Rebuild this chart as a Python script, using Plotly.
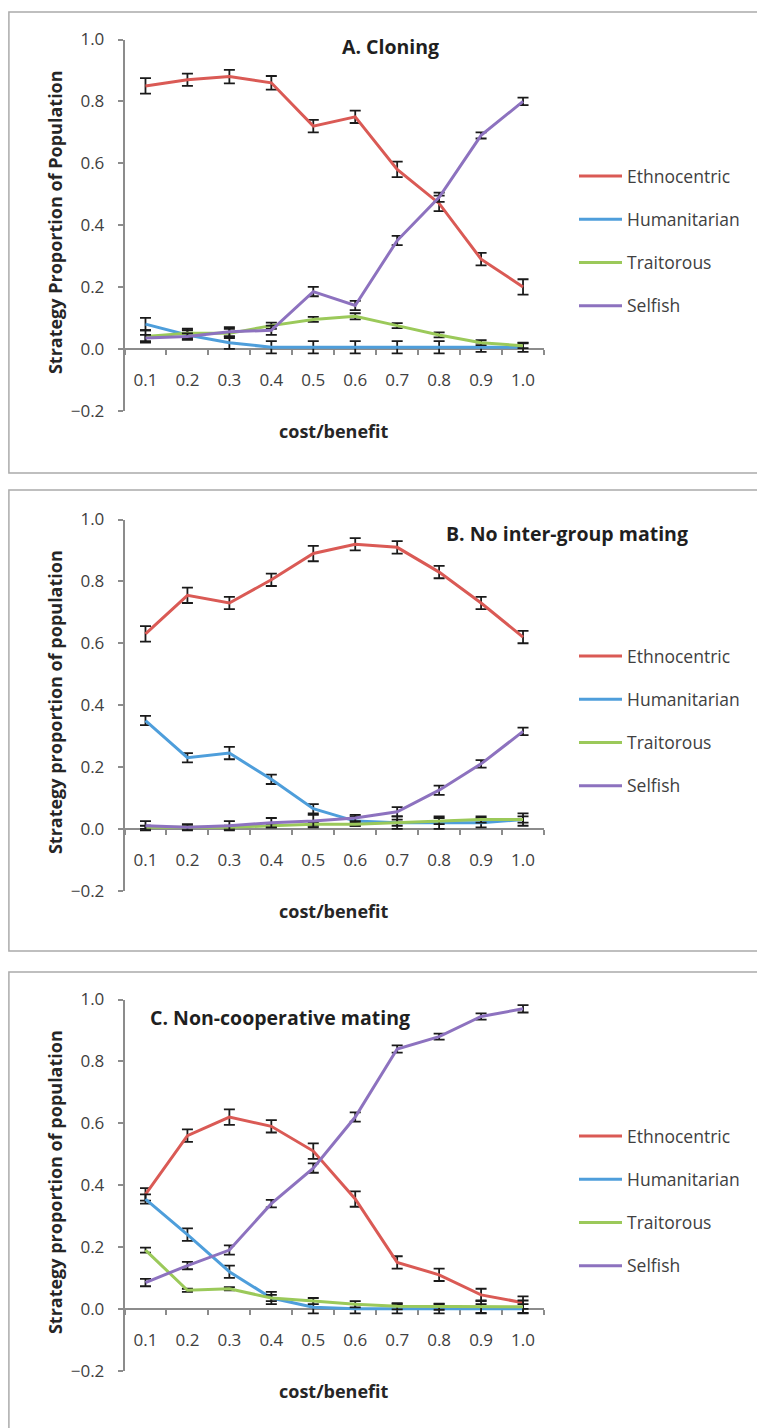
import plotly.graph_objects as go

# The page body adds an 8px margin: the figure is sized so that it fills the
# 765x1428 window exactly, and all layout positions below are window pixels.
PAGE_OFF = 8
FW, FH = 765 - PAGE_OFF, 1428 - PAGE_OFF

cats = ["0.1", "0.2", "0.3", "0.4", "0.5", "0.6", "0.7", "0.8", "0.9", "1.0"]
series_names = ["Ethnocentric", "Humanitarian", "Traitorous", "Selfish"]
series_colors = ["#DA5A55", "#4E9EDB", "#9BC95A", "#8D72BF"]

panel_titles = ["A. Cloning", "B. No inter-group mating", "C. Non-cooperative mating"]
y_titles = ["Strategy Proportion of Population",
            "Strategy proportion of population",
            "Strategy proportion of population"]
x_title = "cost/benefit"

# Panel A: Cloning
a_ethno = [0.85, 0.87, 0.88, 0.86, 0.72, 0.75, 0.58, 0.47, 0.29, 0.20]
a_human = [0.08, 0.045, 0.02, 0.005, 0.005, 0.005, 0.005, 0.005, 0.005, 0.005]
a_trait = [0.04, 0.05, 0.05, 0.075, 0.095, 0.105, 0.075, 0.045, 0.02, 0.01]
a_selfish = [0.035, 0.04, 0.055, 0.06, 0.185, 0.14, 0.35, 0.49, 0.69, 0.80]
a_ethno_err = [0.025, 0.02, 0.022, 0.022, 0.02, 0.02, 0.025, 0.025, 0.02, 0.025]
a_human_err = [0.02, 0.015, 0.02, 0.02, 0.02, 0.02, 0.02, 0.02, 0.015, 0.015]
a_trait_err = [0.02, 0.015, 0.015, 0.01, 0.008, 0.01, 0.008, 0.008, 0.008, 0.008]
a_selfish_err = [0.01, 0.01, 0.015, 0.015, 0.015, 0.015, 0.015, 0.015, 0.01, 0.012]

# Panel B: No inter-group mating
b_ethno = [0.63, 0.755, 0.73, 0.805, 0.89, 0.92, 0.91, 0.83, 0.73, 0.62]
b_human = [0.35, 0.23, 0.245, 0.16, 0.065, 0.025, 0.02, 0.02, 0.02, 0.03]
b_trait = [0.005, 0.005, 0.005, 0.01, 0.015, 0.015, 0.02, 0.025, 0.03, 0.03]
b_selfish = [0.01, 0.005, 0.01, 0.02, 0.025, 0.035, 0.055, 0.125, 0.21, 0.315]
b_ethno_err = [0.025, 0.025, 0.02, 0.02, 0.025, 0.02, 0.02, 0.02, 0.02, 0.02]
b_human_err = [0.015, 0.015, 0.02, 0.015, 0.015, 0.015, 0.02, 0.02, 0.015, 0.02]
b_trait_err = [0.005, 0.005, 0.005, 0.005, 0.005, 0.005, 0.01, 0.01, 0.01, 0.01]
b_selfish_err = [0.015, 0.01, 0.015, 0.015, 0.02, 0.01, 0.015, 0.015, 0.012, 0.012]

# Panel C: Non-cooperative mating
c_ethno = [0.37, 0.56, 0.62, 0.59, 0.51, 0.355, 0.15, 0.11, 0.045, 0.02]
c_human = [0.355, 0.24, 0.12, 0.035, 0.005, 0.0, 0.0, 0.0, 0.0, 0.0]
c_trait = [0.19, 0.06, 0.065, 0.035, 0.025, 0.015, 0.008, 0.007, 0.007, 0.007]
c_selfish = [0.085, 0.14, 0.19, 0.34, 0.455, 0.62, 0.84, 0.88, 0.945, 0.97]
c_ethno_err = [0.02, 0.02, 0.025, 0.02, 0.025, 0.025, 0.02, 0.02, 0.02, 0.02]
c_human_err = [0.015, 0.02, 0.02, 0.02, 0.02, 0.015, 0.015, 0.015, 0.015, 0.015]
c_trait_err = [0.008, 0.005, 0.005, 0.01, 0.01, 0.01, 0.01, 0.01, 0.02, 0.02]
c_selfish_err = [0.012, 0.012, 0.015, 0.012, 0.015, 0.015, 0.012, 0.01, 0.01, 0.012]

panel_values = [
    [a_ethno, a_human, a_trait, a_selfish],
    [b_ethno, b_human, b_trait, b_selfish],
    [c_ethno, c_human, c_trait, c_selfish],
]
panel_errors = [
    [a_ethno_err, a_human_err, a_trait_err, a_selfish_err],
    [b_ethno_err, b_human_err, b_trait_err, b_selfish_err],
    [c_ethno_err, c_human_err, c_trait_err, c_selfish_err],
]

FONT = "'Open Sans', 'DejaVu Sans', sans-serif"
AXIS_GREY = "#8C8C8C"
TEXT_GREY = "#404040"


def py(r):
    """window pixel row -> paper y"""
    return 1 - (r - PAGE_OFF) / FH


def pxx(r):
    """window pixel column -> paper x"""
    return (r - PAGE_OFF) / FW


fig = go.Figure()

Y_TOP, Y_BOT = 39.5, 410.7     # rows of y = 1.0 and y = -0.2 in panel A
Y_MIN, Y_MAX = -0.2, 1.0
X_LEFT, X_RIGHT = 124.5, 544.0
PANEL_STEP = 480
box_tops = [12, 490, 972]
BOX_H = 461
title_pos = [(390, 47), (567, 534), (280, 1017)]

for i in range(3):
    off = PANEL_STEP * i
    sfx = "" if i == 0 else str(i + 1)
    xname, yname = "x" + sfx, "y" + sfx
    legname = "legend" + sfx
    top_r, bot_r = Y_TOP + off, Y_BOT + off
    zero_r = bot_r - (0 - Y_MIN) / (Y_MAX - Y_MIN) * (bot_r - top_r)

    for k, name in enumerate(series_names):
        fig.add_trace(go.Scatter(
            x=cats, y=panel_values[i][k],
            mode="lines", name=name,
            line=dict(color=series_colors[k], width=3),
            error_y=dict(type="data", array=panel_errors[i][k], visible=True,
                         color="#1A1A1A", thickness=1.8, width=5.5),
            xaxis=xname, yaxis=yname, legend=legname,
            legendgroup=f"{i}-{name}",
        ))

    fig.layout["xaxis" + sfx] = dict(
        domain=[pxx(X_LEFT), pxx(X_RIGHT)],
        anchor="free", position=py(zero_r),
        type="category", range=[-0.5, 9.5],
        showline=True, linecolor=AXIS_GREY, linewidth=1.5,
        ticks="outside", tickson="boundaries", ticklen=5,
        tickcolor=AXIS_GREY, tickwidth=1.5,
        ticklabelstandoff=16,
        tickfont=dict(family=FONT, size=17, color=TEXT_GREY),
        showgrid=False, zeroline=False, layer="below traces",
        automargin=False, fixedrange=True,
    )
    fig.layout["yaxis" + sfx] = dict(
        domain=[py(bot_r), py(top_r)],
        anchor=xname, range=[Y_MIN, Y_MAX],
        tickvals=[-0.2, 0.0, 0.2, 0.4, 0.6, 0.8, 1.0],
        tickformat=".1f",
        showline=True, linecolor=AXIS_GREY, linewidth=1.5,
        ticks="outside", ticklen=5, tickcolor=AXIS_GREY, tickwidth=1.5,
        ticklabelstandoff=10,
        tickfont=dict(family=FONT, size=17, color=TEXT_GREY),
        showgrid=False, zeroline=False, layer="below traces",
        automargin=False, fixedrange=True,
    )

    fig.layout[legname] = dict(
        x=pxx(574), y=py(158 + off), xanchor="left", yanchor="top",
        font=dict(family=FONT, size=17.5, color=TEXT_GREY),
        bgcolor="rgba(0,0,0,0)", tracegroupgap=17.5, itemwidth=43,
    )

    # panel border
    fig.add_shape(type="rect", xref="paper", yref="paper",
                  x0=0.9 / FW, x1=pxx(790),
                  y0=py(box_tops[i] + BOX_H), y1=py(box_tops[i]),
                  line=dict(color="#ABABAB", width=1.5), layer="below")

    # panel title
    fig.add_annotation(text="<b>" + panel_titles[i] + "</b>", xref="paper", yref="paper",
                       x=pxx(title_pos[i][0]), y=py(title_pos[i][1]),
                       xanchor="center", yanchor="middle", showarrow=False,
                       font=dict(family=FONT, size=19.5, color="#1F1F1F"))
    # y-axis title
    fig.add_annotation(text="<b>" + y_titles[i] + "</b>", xref="paper", yref="paper",
                       x=pxx(55), y=py((top_r + bot_r) / 2 - 3),
                       xanchor="center", yanchor="middle", textangle=-90,
                       showarrow=False,
                       font=dict(family=FONT, size=18, color="#262626"))
    # x-axis title
    fig.add_annotation(text="<b>" + x_title + "</b>", xref="paper", yref="paper",
                       x=pxx((X_LEFT + X_RIGHT) / 2), y=py(431 + off),
                       xanchor="center", yanchor="middle", showarrow=False,
                       font=dict(family=FONT, size=18, color="#262626"))

fig.update_layout(
    width=FW, height=FH,
    margin=dict(l=0, r=0, t=0, b=0, autoexpand=False),
    paper_bgcolor="white", plot_bgcolor="white",
    showlegend=True,
)

fig.write_html("out.html")
